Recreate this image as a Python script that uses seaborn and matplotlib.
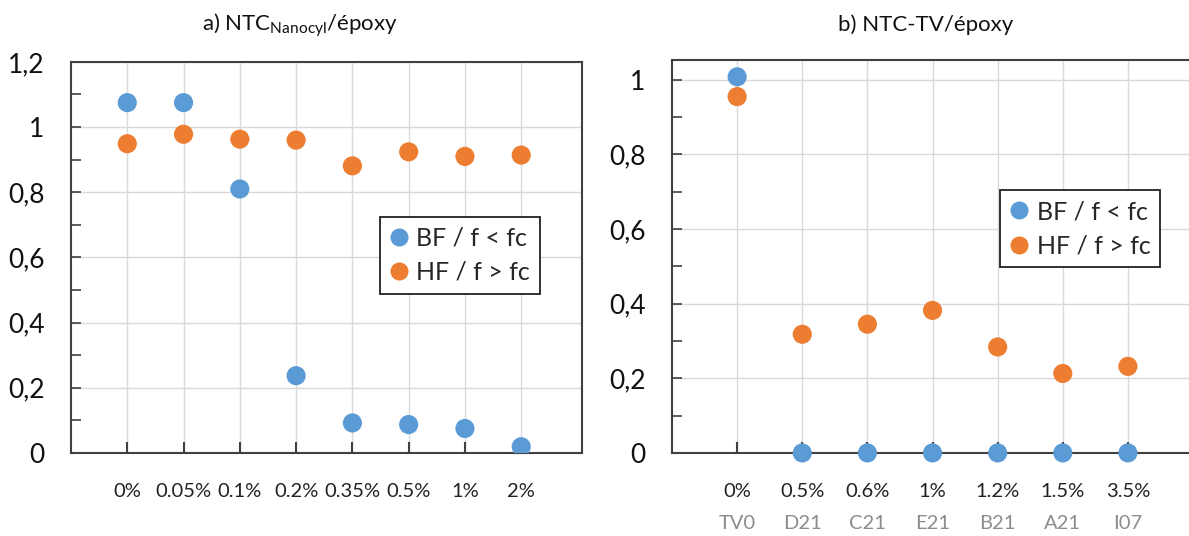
import pandas as pd
import matplotlib.pyplot as plt
import seaborn as sns
from matplotlib.ticker import MultipleLocator, FuncFormatter
from matplotlib.lines import Line2D

# Data
cats_a = ['0%', '0.05%', '0.1%', '0.2%', '0.35%', '0.5%', '1%', '2%']
bf_a = [1.075, 1.075, 0.81, 0.237, 0.092, 0.087, 0.075, 0.019]
hf_a = [0.949, 0.978, 0.963, 0.960, 0.881, 0.924, 0.910, 0.914]

cats_b = ['0%', '0.5%', '0.6%', '1%', '1.2%', '1.5%', '3.5%']
codes_b = ['TV0', 'D21', 'C21', 'E21', 'B21', 'A21', 'I07']
bf_b = [1.008, 0.0, 0.0, 0.0, 0.0, 0.0, 0.0]
hf_b = [0.955, 0.318, 0.345, 0.382, 0.284, 0.213, 0.232]

series = ['BF / f < fc', 'HF / f > fc']
colors = ['#5B9BD5', '#ED7D31']

sns.set_style('white')
plt.rcParams['font.family'] = ['Lato', 'DejaVu Sans']
plt.rcParams['mathtext.fontset'] = 'custom'
plt.rcParams['mathtext.rm'] = 'Lato'
plt.rcParams['mathtext.it'] = 'Lato:italic'

def long_df(cats, bf, hf):
    return pd.DataFrame({
        'cat': cats * 2,
        'val': bf + hf,
        'serie': [series[0]] * len(cats) + [series[1]] * len(cats),
    })

def comma_fmt(v, pos):
    s = ('%.1f' % v).rstrip('0').rstrip('.')
    return s.replace('.', ',')

fig = plt.figure(figsize=(11.89, 5.36), dpi=100)
ax1 = fig.add_axes([0.0597, 0.155, 0.4298, 0.7295])
ax2 = fig.add_axes([0.5652, 0.155, 0.4382, 0.733])

spine_col = '#404040'

def style_axes(ax, ylim, xlim):
    ax.set_ylim(*ylim)
    ax.set_xlim(*xlim)
    ax.yaxis.set_major_locator(MultipleLocator(0.2))
    ax.yaxis.set_minor_locator(MultipleLocator(0.1))
    ax.yaxis.set_major_formatter(FuncFormatter(comma_fmt))
    ax.grid(True, which='major', color='#d9d9d9', linewidth=1)
    ax.set_axisbelow(True)
    for s in ax.spines.values():
        s.set_color(spine_col)
        s.set_linewidth(1.5)
        s.set_visible(True)
    ax.tick_params(axis='y', which='major', direction='in', length=7,
                   width=1.2, color=spine_col, pad=19,
                   labelsize=19, labelcolor='#111111', left=True)
    ax.tick_params(axis='y', which='minor', direction='in', length=7,
                   width=1.2, color=spine_col, left=True)
    ax.tick_params(axis='x', direction='in', length=8, width=1.5,
                   color=spine_col, pad=22, labelsize=14.5, labelcolor='#222222',
                   bottom=True)
    ax.set_xlabel('')
    ax.set_ylabel('')

sns.scatterplot(data=long_df(cats_a, bf_a, hf_a), x='cat', y='val', hue='serie',
                hue_order=series, palette=colors, s=190, linewidth=0, ax=ax1,
                legend=False, zorder=3)
style_axes(ax1, (0, 1.2), (-1, 8.08))

sns.scatterplot(data=long_df(cats_b, bf_b, hf_b), x='cat', y='val', hue='serie',
                hue_order=series, palette=colors, s=190, linewidth=0, ax=ax2,
                legend=False, zorder=3, clip_on=False)
style_axes(ax2, (0, 1.053), (-1, 7))

for i, c in enumerate(codes_b):
    ax2.text(i, -0.19, c, transform=ax2.transData, ha='center', va='center',
             fontsize=14.5, color='#8c8c8c', clip_on=False)

def add_legend(ax, anchor):
    handles = [Line2D([0], [0], marker='o', linestyle='', markersize=13,
                      markerfacecolor=col, markeredgewidth=0) for col in colors]
    leg = ax.legend(handles, series, loc='upper left', bbox_to_anchor=anchor,
                    fontsize=18, frameon=True, fancybox=False,
                    handlelength=0.7, handletextpad=0.35, borderpad=0.4,
                    labelspacing=0.45, borderaxespad=0)
    leg.get_frame().set_edgecolor('#222222')
    leg.get_frame().set_linewidth(1.3)
    leg.get_frame().set_alpha(1)

add_legend(ax1, (0.605, 0.604))
add_legend(ax2, (0.63, 0.669))

fig.text(300 / 1189, 1 - 25 / 536, r'a) NTC$_{\mathrm{Nanocyl}}$/époxy',
         ha='center', va='center', fontsize=16, color='#111111')
fig.text(926 / 1189, 1 - 25 / 536, 'b) NTC-TV/époxy',
         ha='center', va='center', fontsize=16, color='#111111')

fig.savefig('out.png', dpi=100, facecolor='white')
